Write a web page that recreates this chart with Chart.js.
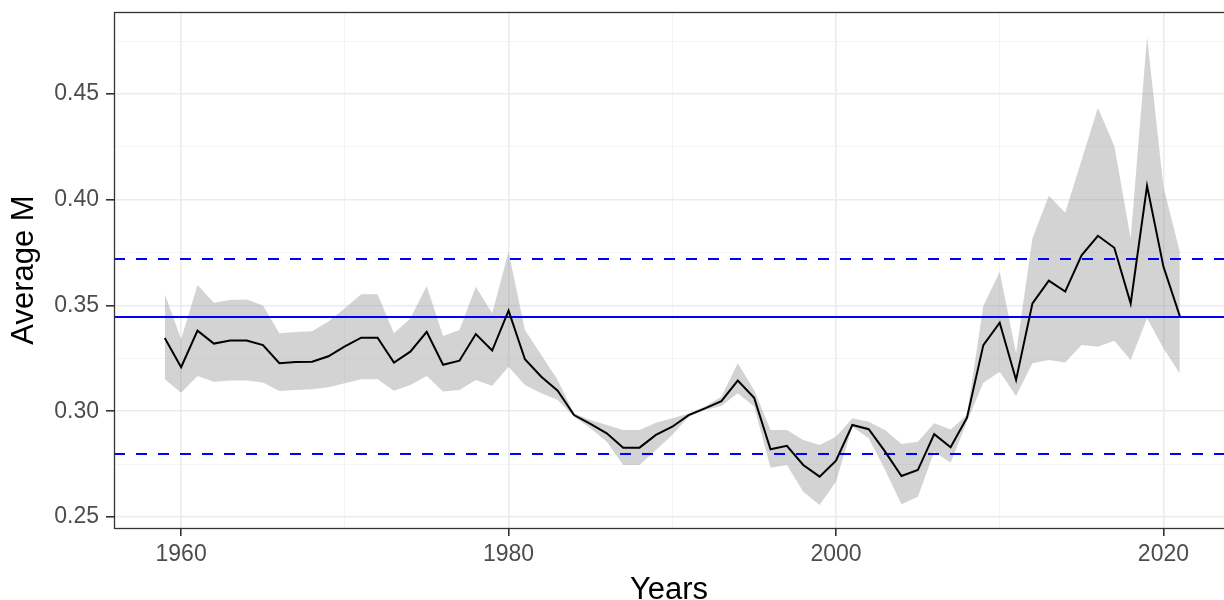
<!DOCTYPE html>
<html>
<head>
<meta charset="utf-8">
<script src="https://cdn.jsdelivr.net/npm/chart.js@4"></script>
<style>
  html, body { margin: 0; padding: 0; background: #fff; }
  #wrap { width: 1224px; height: 600px; }
</style>
</head>
<body>
<div id="wrap"><canvas id="Chart" width="1224" height="600"></canvas></div>
<script>
// データ
let years = [];
for (let y = 1959; y <= 2021; y++) years.push(y);

let avgM = [0.3346, 0.3208, 0.3381, 0.3320, 0.3335, 0.3335, 0.3313, 0.3227, 0.3233, 0.3234,
  0.3260, 0.3307, 0.3348, 0.3348, 0.3230, 0.3282, 0.3376, 0.3220, 0.3239, 0.3365,
  0.3287, 0.3476, 0.3246, 0.3163, 0.3097, 0.2982, 0.2940, 0.2896, 0.2828, 0.2828,
  0.2888, 0.2927, 0.2982, 0.3014, 0.3048, 0.3145, 0.3064, 0.2820, 0.2837, 0.2746,
  0.2691, 0.2766, 0.2935, 0.2915, 0.2809, 0.2694, 0.2722, 0.2892, 0.2830, 0.2970,
  0.3313, 0.3419, 0.3148, 0.3510, 0.3618, 0.3566, 0.3737, 0.3830, 0.3773, 0.3510,
  0.4066, 0.3684, 0.3450];

let upperM = [0.3554, 0.3340, 0.3597, 0.3513, 0.3526, 0.3529, 0.3500, 0.3369, 0.3375, 0.3378,
  0.3424, 0.3487, 0.3553, 0.3553, 0.3369, 0.3439, 0.3592, 0.3356, 0.3384, 0.3589,
  0.3463, 0.3754, 0.3384, 0.3266, 0.3148, 0.2990, 0.2959, 0.2935, 0.2911, 0.2911,
  0.2946, 0.2967, 0.2990, 0.3022, 0.3069, 0.3227, 0.3101, 0.2911, 0.2911, 0.2864,
  0.2841, 0.2880, 0.2967, 0.2951, 0.2911, 0.2845, 0.2856, 0.2943, 0.2914, 0.2982,
  0.3498, 0.3660, 0.3274, 0.3818, 0.4019, 0.3939, 0.4188, 0.4435, 0.4254, 0.3818,
  0.4771, 0.4062, 0.3754];

let lowerM = [0.3151, 0.3088, 0.3167, 0.3140, 0.3145, 0.3145, 0.3136, 0.3096, 0.3100, 0.3104,
  0.3113, 0.3132, 0.3151, 0.3151, 0.3097, 0.3124, 0.3167, 0.3093, 0.3100, 0.3148,
  0.3121, 0.3211, 0.3124, 0.3085, 0.3053, 0.2974, 0.2920, 0.2856, 0.2746, 0.2746,
  0.2817, 0.2888, 0.2974, 0.3006, 0.3025, 0.3085, 0.3022, 0.2733, 0.2746, 0.2620,
  0.2557, 0.2667, 0.2927, 0.2872, 0.2722, 0.2560, 0.2596, 0.2809, 0.2757, 0.2951,
  0.3135, 0.3187, 0.3072, 0.3227, 0.3243, 0.3231, 0.3313, 0.3305, 0.3334, 0.3243,
  0.3440, 0.3298, 0.3179];

// 基準線
let meanLine = 0.3446;
let upperLine = 0.3720;
let lowerLine = 0.2798;

let xTicks = [1960, 1970, 1980, 1990, 2000, 2010, 2020];
let yTicks = [0.25, 0.275, 0.30, 0.325, 0.35, 0.375, 0.40, 0.425, 0.45, 0.475];

let xMin = 1955.9, xMax = 2023.7;
let yMin = 0.2448, yMax = 0.4888;

let pts = (arr) => arr.map((v, i) => ({ x: years[i], y: v }));
let hline = (v) => [{ x: xMin, y: v }, { x: xMax, y: v }];

let isMajorX = (v) => Math.round(v) % 20 === 0;
let isMajorY = (v) => Math.abs(v * 20 - Math.round(v * 20)) < 1e-6;

// 枠線
let panelBorder = {
  id: 'panelBorder',
  afterDraw(chart) {
    let a = chart.chartArea, c = chart.ctx;
    c.save();
    c.strokeStyle = '#333333';
    c.lineWidth = 1.3;
    c.strokeRect(a.left + 0.5, a.top + 0.5, a.right - a.left + 10, a.bottom - a.top);
    c.restore();
  }
};

let fontFam = 'Liberation Sans, Arial, sans-serif';

let lineCtx = document.getElementById('Chart');
let lineConfig = {
  type: 'line',
  data: {
    datasets: [
      { data: pts(lowerM), borderWidth: 0, pointRadius: 0, fill: false, order: 5 },
      { data: pts(upperM), borderWidth: 0, pointRadius: 0, fill: '-1',
        backgroundColor: 'rgba(150,150,150,0.42)', order: 4 },
      { data: hline(meanLine), borderColor: '#0000ff', borderWidth: 2, pointRadius: 0, order: 2 },
      { data: hline(upperLine), borderColor: '#0000ff', borderWidth: 2, borderDash: [11, 11], pointRadius: 0, order: 2 },
      { data: hline(lowerLine), borderColor: '#0000ff', borderWidth: 2, borderDash: [11, 11], pointRadius: 0, order: 2 },
      { data: pts(avgM), borderColor: '#000000', borderWidth: 2, pointRadius: 0, tension: 0, order: 1 }
    ]
  },
  options: {
    responsive: false,
    animation: false,
    layout: { padding: { top: 12, right: 0, left: 0, bottom: 0 } },
    plugins: { legend: { display: false }, tooltip: { enabled: false } },
    scales: {
      x: {
        type: 'linear', min: xMin, max: xMax,
        afterBuildTicks: (s) => { s.ticks = xTicks.map(v => ({ value: v })); },
        afterFit: (s) => { s.height = 72; s.paddingLeft = 0; s.paddingRight = 0; },
        grid: {
          color: (c) => isMajorX(c.tick.value) ? '#ebebeb' : '#f3f3f3',
          lineWidth: (c) => isMajorX(c.tick.value) ? 1.6 : 0.8,
          tickColor: (c) => isMajorX(c.tick.value) ? '#333333' : 'rgba(0,0,0,0)',
          tickWidth: 1.6,
          tickLength: 8, drawTicks: true
        },
        border: { display: false },
        ticks: {
          autoSkip: false, maxRotation: 0, padding: 5,
          color: '#4d4d4d', font: { family: fontFam, size: 23 },
          callback: (v) => isMajorX(v) ? String(v) : ''
        },
        title: { display: true, text: 'Years', color: '#000000',
          font: { family: fontFam, size: 31 }, padding: { top: 0, bottom: -9 } }
      },
      y: {
        type: 'linear', min: yMin, max: yMax,
        afterBuildTicks: (s) => { s.ticks = yTicks.map(v => ({ value: v })); },
        afterFit: (s) => { s.width = 114; s.paddingTop = 0; s.paddingBottom = 0; },
        grid: {
          color: (c) => isMajorY(c.tick.value) ? '#ebebeb' : '#f3f3f3',
          lineWidth: (c) => isMajorY(c.tick.value) ? 1.6 : 0.8,
          tickColor: (c) => isMajorY(c.tick.value) ? '#333333' : 'rgba(0,0,0,0)',
          tickWidth: 1.6,
          tickLength: 8
        },
        border: { display: false },
        ticks: {
          autoSkip: false, padding: 7,
          color: '#4d4d4d', font: { family: fontFam, size: 23 },
          callback: (v) => isMajorY(v) ? v.toFixed(2) : ''
        },
        title: { display: true, text: 'Average M', color: '#000000',
          font: { family: fontFam, size: 31 }, padding: { top: 6, bottom: 0 } }
      }
    }
  },
  plugins: [panelBorder]
};
let lineChart = new Chart(lineCtx, lineConfig);
</script>
</body>
</html>
